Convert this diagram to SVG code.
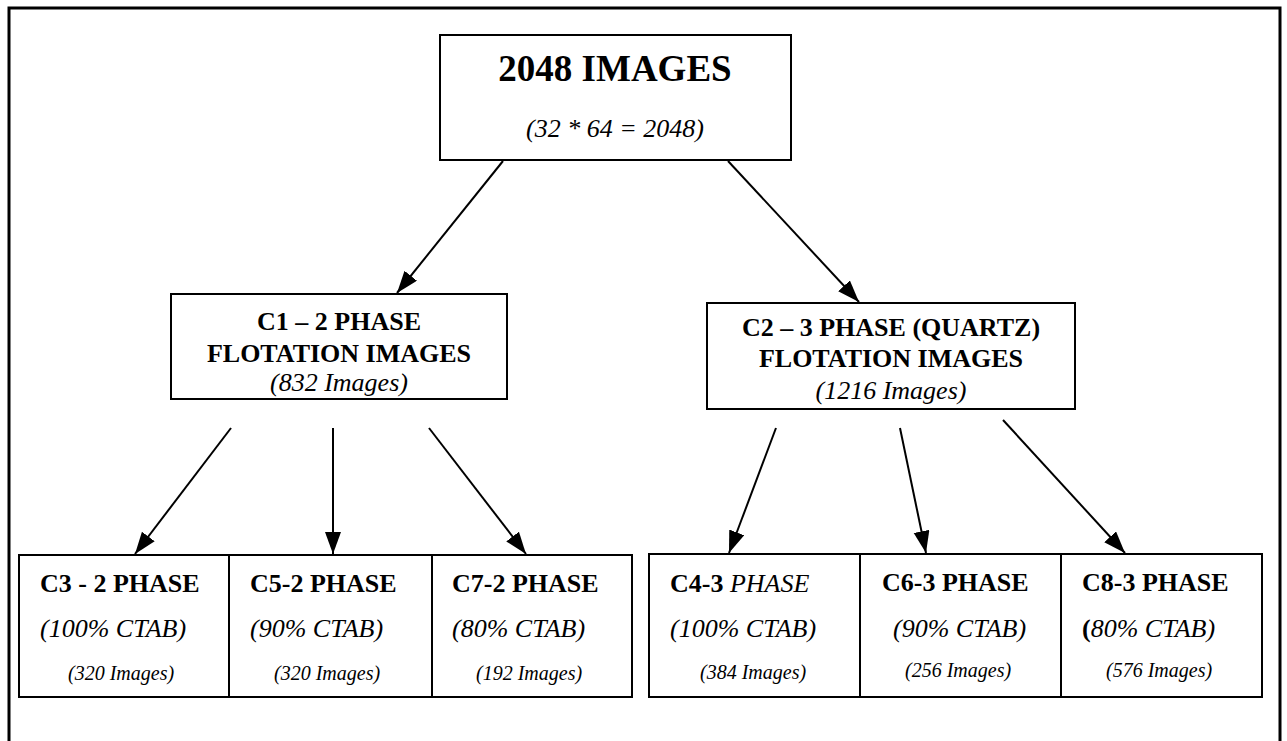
<svg xmlns="http://www.w3.org/2000/svg" width="1287" height="741" viewBox="0 0 1287 741">
<defs>
<marker id="ah" markerUnits="userSpaceOnUse" markerWidth="24" markerHeight="18" refX="22" refY="8" orient="auto">
<path d="M0,0 L22,8 L0,16 Z" fill="#000"/>
</marker>
<style>
.box{fill:#fff;stroke:#000;stroke-width:2}
.t{font-family:"Liberation Serif","Times New Roman",serif;fill:#000}
.b{font-weight:bold;font-size:26px}
.i{font-style:italic;font-size:26px}
.s{font-style:italic;font-size:20px}
.c{stroke:#000;stroke-width:2;fill:none;marker-end:url(#ah)}
</style>
</defs>
<rect width="1287" height="741" fill="#fff"/>
<rect x="9" y="8" width="1271" height="760" fill="none" stroke="#000" stroke-width="3"/>
<g id="connectors">
<line class="c" x1="503" y1="161" x2="397" y2="293"/>
<line class="c" x1="728" y1="161" x2="859" y2="302"/>
<line class="c" x1="231" y1="428" x2="135" y2="554"/>
<line class="c" x1="333" y1="428" x2="333" y2="554"/>
<line class="c" x1="429" y1="428" x2="526" y2="554"/>
<line class="c" x1="776" y1="428" x2="729" y2="553"/>
<line class="c" x1="900" y1="428" x2="926" y2="553"/>
<line class="c" x1="1003" y1="420" x2="1125" y2="553"/>
</g>
<g id="n-top">
<rect class="box" x="440" y="35" width="351" height="125"/>
<text class="t" x="615" y="81" text-anchor="middle" font-weight="bold" font-size="37">2048 IMAGES</text>
<text class="t" x="615" y="137" text-anchor="middle" font-style="italic" font-size="26">(32 * 64 = 2048)</text>
</g>
<g id="n-c1">
<rect class="box" x="171" y="294" width="336" height="105"/>
<text class="t b" x="339" y="330" text-anchor="middle">C1 – 2 PHASE</text>
<text class="t b" x="339" y="362" text-anchor="middle">FLOTATION IMAGES</text>
<text class="t i" x="339" y="391" text-anchor="middle">(832 Images)</text>
</g>
<g id="n-c2">
<rect class="box" x="707" y="303" width="368" height="106"/>
<text class="t b" x="891" y="336" text-anchor="middle">C2 – 3 PHASE (QUARTZ)</text>
<text class="t b" x="891" y="367" text-anchor="middle">FLOTATION IMAGES</text>
<text class="t i" x="891" y="399" text-anchor="middle">(1216 Images)</text>
</g>
<g id="n-c3">
<rect class="box" x="19" y="555" width="210" height="142"/>
<text class="t b" x="40" y="592">C3 - 2 PHASE</text>
<text class="t i" x="40" y="637">(100% CTAB)</text>
<text class="t s" x="68" y="680">(320 Images)</text>
</g>
<g id="n-c5">
<rect class="box" x="229" y="555" width="203" height="142"/>
<text class="t b" x="250" y="592">C5-2 PHASE</text>
<text class="t i" x="250" y="637">(90% CTAB)</text>
<text class="t s" x="274" y="680">(320 Images)</text>
</g>
<g id="n-c7">
<rect class="box" x="432" y="555" width="200" height="142"/>
<text class="t b" x="452" y="592">C7-2 PHASE</text>
<text class="t i" x="452" y="637">(80% CTAB)</text>
<text class="t s" x="476" y="680">(192 Images)</text>
</g>
<g id="n-c4">
<rect class="box" x="649" y="554" width="211" height="143"/>
<text class="t b" x="670" y="592">C4-3 <tspan font-weight="normal" font-style="italic">PHASE</tspan></text>
<text class="t i" x="670" y="637">(100% CTAB)</text>
<text class="t s" x="700" y="679">(384 Images)</text>
</g>
<g id="n-c6">
<rect class="box" x="860" y="554" width="201" height="143"/>
<text class="t b" x="882" y="591">C6-3 PHASE</text>
<text class="t i" x="893" y="637">(90% CTAB)</text>
<text class="t s" x="905" y="677">(256 Images)</text>
</g>
<g id="n-c8">
<rect class="box" x="1061" y="554" width="201" height="143"/>
<text class="t b" x="1082" y="591">C8-3 PHASE</text>
<text class="t i" x="1082" y="637"><tspan font-weight="bold" font-style="normal">(</tspan>80% CTAB)</text>
<text class="t s" x="1106" y="677">(576 Images)</text>
</g>
</svg>
